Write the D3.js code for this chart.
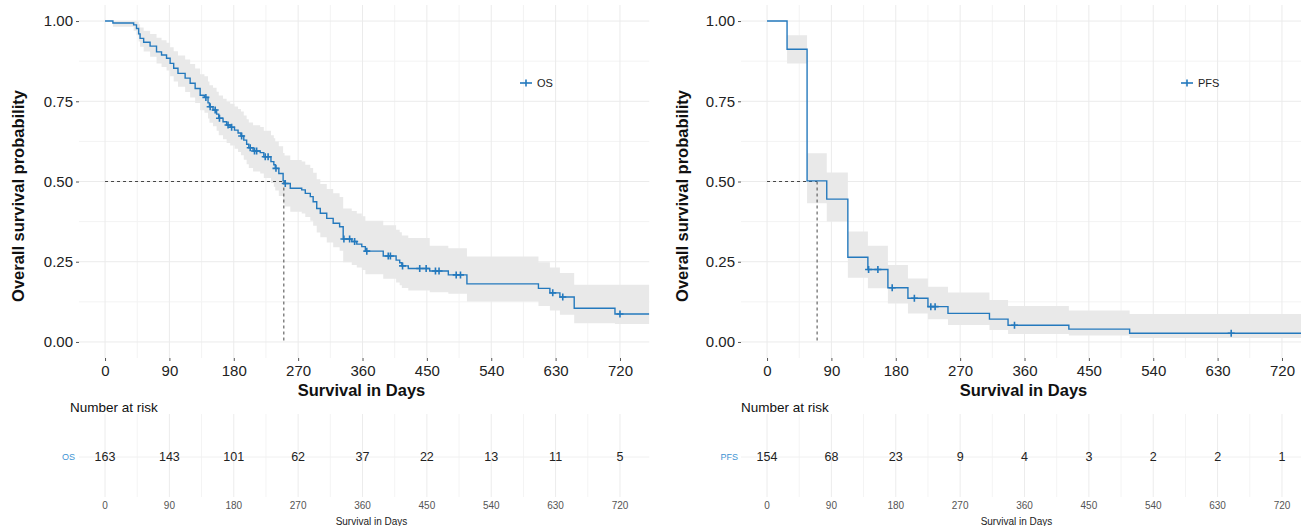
<!DOCTYPE html>
<html>
<head>
<meta charset="utf-8">
<script src="https://cdn.jsdelivr.net/npm/d3@7"></script>
<style>
body { margin: 0; background: #fff; }
svg { display: block; font-family: "Liberation Sans", Arial, sans-serif; }
</style>
</head>
<body>
<svg id="chart" width="1301" height="526"></svg>
<script>
// ---- OS (overall survival)
var osTime  = [0, 11, 40, 44, 47, 49, 54, 63, 72, 79, 86, 91, 96, 102, 112, 119, 126, 133, 139, 144, 146, 151, 156, 159, 165, 170, 175, 181, 186, 190, 194, 198, 201, 207, 217, 222, 232, 236, 238, 243, 249, 251, 259, 275, 280, 287, 291, 296, 301, 310, 319, 328, 333, 345, 352, 359, 364, 389, 407, 412, 415, 424, 454, 480, 506, 606, 622, 636, 656, 713];
var osSurv  = [1.000, 0.994, 0.988, 0.977, 0.960, 0.946, 0.934, 0.922, 0.904, 0.894, 0.884, 0.868, 0.853, 0.837, 0.822, 0.806, 0.790, 0.769, 0.762, 0.745, 0.733, 0.723, 0.710, 0.697, 0.686, 0.676, 0.669, 0.660, 0.651, 0.642, 0.629, 0.616, 0.605, 0.595, 0.590, 0.577, 0.562, 0.552, 0.541, 0.525, 0.502, 0.494, 0.479, 0.474, 0.463, 0.453, 0.437, 0.416, 0.401, 0.385, 0.370, 0.359, 0.321, 0.313, 0.305, 0.297, 0.283, 0.268, 0.255, 0.247, 0.237, 0.229, 0.221, 0.209, 0.181, 0.167, 0.153, 0.140, 0.105, 0.087];
var osLower = [1.000, 0.982, 0.970, 0.956, 0.936, 0.920, 0.905, 0.889, 0.868, 0.857, 0.846, 0.828, 0.812, 0.795, 0.779, 0.762, 0.745, 0.722, 0.714, 0.696, 0.683, 0.672, 0.658, 0.644, 0.632, 0.620, 0.612, 0.602, 0.592, 0.582, 0.568, 0.554, 0.542, 0.531, 0.525, 0.511, 0.495, 0.484, 0.472, 0.455, 0.431, 0.422, 0.406, 0.400, 0.389, 0.378, 0.362, 0.341, 0.326, 0.310, 0.295, 0.284, 0.248, 0.240, 0.232, 0.224, 0.211, 0.197, 0.185, 0.177, 0.168, 0.160, 0.155, 0.150, 0.126, 0.112, 0.098, 0.085, 0.058, 0.056];
var osUpper = [1.000, 1.000, 1.000, 0.998, 0.990, 0.980, 0.970, 0.960, 0.948, 0.940, 0.932, 0.918, 0.906, 0.893, 0.880, 0.866, 0.852, 0.834, 0.828, 0.812, 0.800, 0.792, 0.780, 0.768, 0.758, 0.748, 0.742, 0.734, 0.726, 0.718, 0.706, 0.694, 0.684, 0.675, 0.670, 0.658, 0.644, 0.635, 0.625, 0.610, 0.589, 0.581, 0.567, 0.562, 0.552, 0.542, 0.527, 0.507, 0.492, 0.477, 0.463, 0.452, 0.416, 0.408, 0.400, 0.392, 0.378, 0.364, 0.350, 0.342, 0.332, 0.324, 0.300, 0.292, 0.266, 0.248, 0.232, 0.215, 0.178, 0.178];
var osCensor = [141, 147, 154, 160, 172, 177, 191, 203, 209, 212, 224, 228, 239, 252, 334, 342, 349, 366, 396, 399, 416, 440, 449, 462, 467, 491, 497, 626, 640, 720];
var osLastTime = 761;
var osMedian = 250;

// ---- PFS (progression free survival)
var pfsTime  = [0, 28, 56, 83.5, 113, 141, 169, 197, 225, 253, 311, 337, 422, 507];
var pfsSurv  = [1.000, 0.912, 0.502, 0.445, 0.264, 0.226, 0.169, 0.136, 0.110, 0.089, 0.071, 0.052, 0.040, 0.027];
var pfsLower = [1.000, 0.868, 0.432, 0.375, 0.200, 0.167, 0.120, 0.089, 0.071, 0.053, 0.037, 0.025, 0.020, 0.012];
var pfsUpper = [1.000, 0.956, 0.588, 0.528, 0.344, 0.300, 0.240, 0.198, 0.172, 0.154, 0.131, 0.112, 0.098, 0.087];
var pfsCensor = [142, 155, 175, 206, 229, 235, 346, 649];
var pfsLastTime = 800;
var pfsMedian = 70;

// ---- number at risk table
var riskTimes = [0, 90, 180, 270, 360, 450, 540, 630, 720];
var osRisk  = [163, 143, 101, 62, 37, 22, 13, 11, 5];
var pfsRisk = [154, 68, 23, 9, 4, 3, 2, 2, 1];

var yTicks = [0, 0.25, 0.5, 0.75, 1];
var yMinor = [0.125, 0.375, 0.625, 0.875];
var xMinor = [45, 135, 225, 315, 405, 495, 585, 675];

var blue = "#2479bd";
var svg = d3.select("#chart");

function drawPanel(p) {
    var off = p.off;
    var x = d3.scaleLinear().domain([-36.4, 761]).range([79 + off, 649.3 + off]);
    var y = d3.scaleLinear().domain([-0.05, 1.05]).range([358, 5]);
    var g = svg.append("g");

    var clipId = "clip" + p.name;
    svg.append("clipPath").attr("id", clipId)
        .append("rect").attr("x", x.range()[0]).attr("y", 5)
        .attr("width", x.range()[1] - x.range()[0]).attr("height", 353);

    // grid
    g.selectAll(".xminor").data(xMinor).enter().append("line")
        .attr("x1", x).attr("x2", x).attr("y1", 5).attr("y2", 358)
        .attr("stroke", "#f3f3f3").attr("stroke-width", 1);
    g.selectAll(".yminor").data(yMinor).enter().append("line")
        .attr("x1", x.range()[0]).attr("x2", x.range()[1])
        .attr("y1", y).attr("y2", y)
        .attr("stroke", "#f3f3f3").attr("stroke-width", 1);
    g.selectAll(".xmajor").data(riskTimes).enter().append("line")
        .attr("x1", x).attr("x2", x).attr("y1", 5).attr("y2", 358)
        .attr("stroke", "#ebebeb").attr("stroke-width", 1);
    g.selectAll(".ymajor").data(yTicks).enter().append("line")
        .attr("x1", x.range()[0]).attr("x2", x.range()[1])
        .attr("y1", y).attr("y2", y)
        .attr("stroke", "#ebebeb").attr("stroke-width", 1);

    // step data, carried to the last follow-up
    var pts = p.time.map(function(t, i) {
        return {t: t, s: p.surv[i], lo: p.lower[i], up: p.upper[i]};
    });
    var last = pts[pts.length - 1];
    pts.push({t: p.lastTime, s: last.s, lo: last.lo, up: last.up});

    var plot = g.append("g").attr("clip-path", "url(#" + clipId + ")");

    var band = d3.area().curve(d3.curveStepAfter)
        .x(function(d) { return x(d.t); })
        .y0(function(d) { return y(d.lo); })
        .y1(function(d) { return y(d.up); });
    plot.append("path").datum(pts).attr("d", band)
        .attr("fill", "#e9e9e9").attr("stroke", "none");

    // median lines
    plot.append("line")
        .attr("x1", x(0)).attr("x2", x(p.median))
        .attr("y1", y(0.5)).attr("y2", y(0.5))
        .attr("stroke", "#333").attr("stroke-width", 0.9).attr("stroke-dasharray", "3,3");
    plot.append("line")
        .attr("x1", x(p.median)).attr("x2", x(p.median))
        .attr("y1", y(0.5)).attr("y2", y(0))
        .attr("stroke", "#333").attr("stroke-width", 0.9).attr("stroke-dasharray", "3,3");

    var line = d3.line().curve(d3.curveStepAfter)
        .x(function(d) { return x(d.t); })
        .y(function(d) { return y(d.s); });
    plot.append("path").datum(pts).attr("d", line)
        .attr("fill", "none").attr("stroke", blue).attr("stroke-width", 1.4);

    // censor marks sit on the curve
    var bis = d3.bisector(function(d) { return d.t; }).right;
    plot.selectAll(".cens").data(p.censor).enter().append("path")
        .attr("d", "M-3.5,0H3.5M0,-3.5V3.5")
        .attr("transform", function(t) {
            var d = pts[bis(pts, t) - 1];
            return "translate(" + x(t) + "," + y(d.s) + ")";
        })
        .attr("stroke", blue).attr("stroke-width", 1.6).attr("fill", "none");

    // axes
    var yAxis = d3.axisLeft(y).tickValues(yTicks).tickFormat(d3.format(".2f"))
        .tickSize(3).tickPadding(3);
    var ya = g.append("g").attr("transform", "translate(" + x.range()[0] + ",0)").call(yAxis);
    var xAxis = d3.axisBottom(x).tickValues(riskTimes).tickSize(3).tickPadding(4);
    var xa = g.append("g").attr("transform", "translate(0,358)").call(xAxis);
    [ya, xa].forEach(function(a) {
        a.select(".domain").remove();
        a.selectAll(".tick line").attr("stroke", "#555");
        a.selectAll(".tick text").attr("fill", "#222")
            .style("font-size", "15px").style("font-family", "Liberation Sans, Arial, sans-serif");
    });

    g.append("text")
        .attr("transform", "translate(" + p.yTitleX + "," + 196 + ") rotate(-90)")
        .attr("text-anchor", "middle").attr("dy", "0.35em")
        .style("font-size", "16.5px").style("font-weight", "bold").attr("fill", "#111")
        .text("Overall survival probability");
    g.append("text")
        .attr("x", (x(0) + x(720)) / 2 - 1).attr("y", 396)
        .attr("text-anchor", "middle")
        .style("font-size", "16.5px").style("font-weight", "bold").attr("fill", "#111")
        .text("Survival in Days");

    // legend
    var lg = g.append("g").attr("transform", "translate(" + p.legendX + ",83)");
    lg.append("line").attr("x1", 0).attr("x2", 12).attr("y1", 0).attr("y2", 0)
        .attr("stroke", blue).attr("stroke-width", 1.6);
    lg.append("path").attr("d", "M6,-3.5V3.5").attr("stroke", blue).attr("stroke-width", 1.6);
    lg.append("text").attr("x", 17).attr("y", 0).attr("dy", "0.35em")
        .style("font-size", "11px").attr("fill", "#222").text(p.name);

    // ---- risk table
    var narrow = "Liberation Sans Narrow, Arial Narrow, Liberation Sans, sans-serif";
    g.append("text").attr("x", p.riskTitleX).attr("y", 412)
        .style("font-size", "13.5px").style("font-family", narrow).attr("fill", "#111")
        .text("Number at risk");
    g.selectAll(".rminor").data(xMinor).enter().append("line")
        .attr("x1", x).attr("x2", x).attr("y1", 414).attr("y2", 497)
        .attr("stroke", "#f4f4f4");
    g.selectAll(".rmajor").data(riskTimes).enter().append("line")
        .attr("x1", x).attr("x2", x).attr("y1", 414).attr("y2", 497)
        .attr("stroke", "#ececec");
    g.append("line").attr("x1", x.range()[0]).attr("x2", Math.min(x.range()[1], 1301))
        .attr("y1", 457).attr("y2", 457).attr("stroke", "#f0f0f0");
    g.append("text").attr("x", p.strataX).attr("y", 457).attr("dy", "0.35em")
        .attr("text-anchor", "end")
        .style("font-size", "9px").style("font-family", narrow).attr("fill", "#3d93d3")
        .text(p.name);
    g.selectAll(".risk").data(p.risk).enter().append("text")
        .attr("x", function(d, i) { return x(riskTimes[i]); })
        .attr("y", 457).attr("dy", "0.35em").attr("text-anchor", "middle")
        .style("font-size", "12.5px").style("font-family", narrow).attr("fill", "#222")
        .text(function(d) { return d; });
    g.selectAll(".rtick").data(riskTimes).enter().append("text")
        .attr("x", x).attr("y", 505).attr("dy", "0.35em").attr("text-anchor", "middle")
        .style("font-size", "10px").style("font-family", narrow).attr("fill", "#555")
        .text(function(d) { return d; });
    g.append("text").attr("x", (x(0) + x(720)) / 2 + p.subTitleShift).attr("y", 521).attr("dy", "0.35em")
        .attr("text-anchor", "middle")
        .style("font-size", "10px").style("font-family", narrow).attr("fill", "#222")
        .text("Survival in Days");
}

drawPanel({name: "OS", off: 0, time: osTime, surv: osSurv, lower: osLower, upper: osUpper,
    censor: osCensor, lastTime: osLastTime, median: osMedian, risk: osRisk,
    yTitleX: 18, legendX: 520, riskTitleX: 70, strataX: 75, subTitleShift: 9});
drawPanel({name: "PFS", off: 662, time: pfsTime, surv: pfsSurv, lower: pfsLower, upper: pfsUpper,
    censor: pfsCensor, lastTime: pfsLastTime, median: pfsMedian, risk: pfsRisk,
    yTitleX: 682, legendX: 1181, riskTitleX: 741, strataX: 738, subTitleShift: -8});
</script>
</body>
</html>
